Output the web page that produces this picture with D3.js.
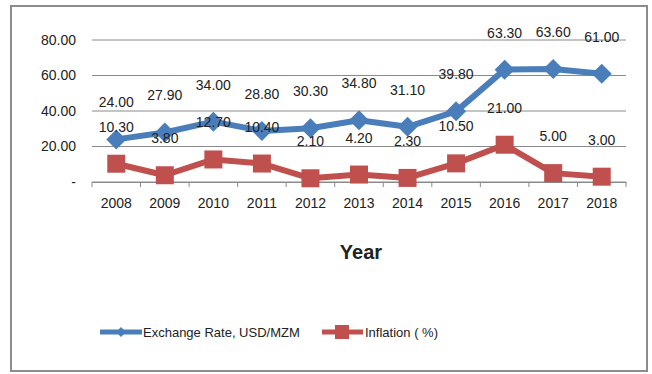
<!DOCTYPE html>
<html>
<head>
<meta charset="utf-8">
<script src="https://cdn.jsdelivr.net/npm/d3@7"></script>
<style>
  html, body { margin: 0; padding: 0; background: #fff; }
  svg { display: block; }
  text { font-family: "Liberation Sans Narrow", "Liberation Sans", sans-serif; fill: #222; }
</style>
</head>
<body>
<svg id="chart" width="652" height="374"></svg>
<script>
// Annual exchange rate and inflation series
const years = ["2008","2009","2010","2011","2012","2013","2014","2015","2016","2017","2018"];
const exchangeRate = [24.00, 27.90, 34.00, 28.80, 30.30, 34.80, 31.10, 39.80, 63.30, 63.60, 61.00];
const inflation = [10.30, 3.80, 12.70, 10.40, 2.10, 4.20, 2.30, 10.50, 21.00, 5.00, 3.00];
const yTicks = [0, 20, 40, 60, 80];
const seriesNames = ["Exchange Rate, USD/MZM", "Inflation ( %)"];

const svg = d3.select("#chart");
const blue = "#4a7ebb", red = "#c0504d";

// Chart frame
svg.append("rect").attr("x", 11).attr("y", 6).attr("width", 636).attr("height", 365)
  .attr("fill", "#fff").attr("stroke", "#8c8c8c").attr("stroke-width", 2);

const plotLeft = 92, plotRight = 626, plotTop = 40, plotBottom = 182;
const x = d3.scaleBand().domain(years).range([plotLeft, plotRight]);
const y = d3.scaleLinear().domain([0, 80]).range([plotBottom, plotTop]);
const cx = d => x(d) + x.bandwidth() / 2;

// Horizontal gridlines
svg.append("g").selectAll("line").data(yTicks).join("line")
  .attr("x1", plotLeft).attr("x2", plotRight)
  .attr("y1", d => y(d)).attr("y2", d => y(d))
  .attr("stroke", "#8a8a8a").attr("stroke-width", 1);

// Y axis labels
const yAxis = d3.axisLeft(y).tickValues(yTicks).tickSize(0).tickPadding(16)
  .tickFormat(d => d === 0 ? "-" : d3.format(".2f")(d));
const gy = svg.append("g").attr("transform", `translate(${plotLeft},0)`).call(yAxis);
gy.select(".domain").remove();
gy.selectAll("text").style("font-size", "14px").attr("fill", "#222")
  .style("font-family", "'Liberation Sans Narrow', 'Liberation Sans', sans-serif");

// X axis with category boundary ticks
const xAxis = d3.axisBottom(x).tickSize(0).tickPadding(16);
const gx = svg.append("g").attr("transform", `translate(0,${plotBottom})`).call(xAxis);
gx.select(".domain").attr("stroke", "#8a8a8a");
gx.selectAll("text").style("font-size", "14px").attr("fill", "#222")
  .style("font-family", "'Liberation Sans Narrow', 'Liberation Sans', sans-serif");
const bounds = years.map(d => x(d)).concat([plotRight]);
svg.append("g").selectAll("line").data(bounds).join("line")
  .attr("x1", d => d).attr("x2", d => d)
  .attr("y1", plotBottom).attr("y2", plotBottom + 5)
  .attr("stroke", "#8a8a8a");

// Series lines
const lineGen = vals => d3.line().x((v, i) => cx(years[i])).y(v => y(v))(vals);
svg.append("path").attr("d", lineGen(exchangeRate)).attr("fill", "none")
  .attr("stroke", blue).attr("stroke-width", 6).attr("stroke-linejoin", "round");
svg.append("path").attr("d", lineGen(inflation)).attr("fill", "none")
  .attr("stroke", red).attr("stroke-width", 6).attr("stroke-linejoin", "round");

// Markers: diamonds for the exchange rate, squares for inflation
svg.append("g").selectAll("path").data(exchangeRate).join("path")
  .attr("d", d3.symbol().type(d3.symbolSquare).size(200))
  .attr("transform", (v, i) => `translate(${cx(years[i])},${y(v)}) rotate(45)`)
  .attr("fill", blue);
svg.append("g").selectAll("rect").data(inflation).join("rect")
  .attr("x", (v, i) => cx(years[i]) - 9).attr("y", v => y(v) - 9)
  .attr("width", 18).attr("height", 18).attr("fill", red);

// Value labels
const fmt = d3.format(".2f");
svg.append("g").selectAll("text").data(exchangeRate).join("text")
  .attr("x", (v, i) => cx(years[i])).attr("y", v => y(v) - 32)
  .attr("text-anchor", "middle").style("font-size", "14px").text(fmt);
svg.append("g").selectAll("text").data(inflation).join("text")
  .attr("x", (v, i) => cx(years[i])).attr("y", v => y(v) - 32)
  .attr("text-anchor", "middle").style("font-size", "14px").text(fmt);

// Axis title
svg.append("text").attr("x", (plotLeft + plotRight) / 2 + 2).attr("y", 259)
  .attr("text-anchor", "middle").style("font-size", "20px").style("font-weight", "bold")
  .text("Year");

// Legend
const legend = svg.append("g").attr("transform", "translate(0,332)");
legend.append("line").attr("x1", 100).attr("x2", 142).attr("y1", 0).attr("y2", 0)
  .attr("stroke", blue).attr("stroke-width", 5);
legend.append("path").attr("d", d3.symbol().type(d3.symbolSquare).size(50))
  .attr("transform", "translate(121,0) rotate(45)").attr("fill", blue);
legend.append("text").attr("x", 143).attr("y", 5).style("font-size", "13px").text(seriesNames[0]);
legend.append("line").attr("x1", 322).attr("x2", 363).attr("y1", 0).attr("y2", 0)
  .attr("stroke", red).attr("stroke-width", 5);
legend.append("rect").attr("x", 335).attr("y", -7).attr("width", 14).attr("height", 14).attr("fill", red);
legend.append("text").attr("x", 365).attr("y", 5).style("font-size", "13px").text(seriesNames[1]);
</script>
</body>
</html>
